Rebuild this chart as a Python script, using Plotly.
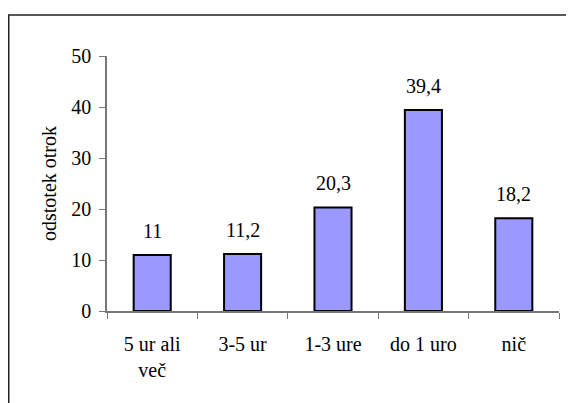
import plotly.graph_objects as go

categories = ['5 ur ali<br>več', '3-5 ur', '1-3 ure', 'do 1 uro', 'nič']
values = [11, 11.2, 20.3, 39.4, 18.2]
value_labels = ['11', '11,2', '20,3', '39,4', '18,2']
y_ticks = [0, 10, 20, 30, 40, 50]

FONT = dict(family='"Liberation Serif", "Times New Roman", serif',
            size=20, color='black')

fig = go.Figure()
fig.add_trace(go.Bar(
    x=categories, y=values,
    marker=dict(color='#9999FF', line=dict(color='black', width=2)),
    width=0.41,
))

# value labels above the bars
for c, v, t in zip(categories, values, value_labels):
    fig.add_annotation(x=c, y=v, text=t, showarrow=False, yshift=24,
                       font=FONT)

# outer frame (chart area border)
fig.add_shape(type='rect', xref='paper', yref='paper',
              x0=-0.2174, x1=1.2, y0=-0.5, y1=1.1608,
              line=dict(color='#222222', width=1.5))

fig.update_layout(
    width=574, height=403,
    margin=dict(l=99, r=23, t=48, b=100),
    paper_bgcolor='white', plot_bgcolor='white',
    font=FONT,
    showlegend=False,
)
fig.update_xaxes(
    showline=True, linecolor='#777777', linewidth=1.5,
    ticks='outside', tickson='boundaries', ticklen=6, tickcolor='#777777',
    tickfont=FONT, showgrid=False, ticklabelstandoff=14,
)
fig.update_yaxes(
    range=[0, 50], tickvals=y_ticks,
    showline=True, linecolor='#777777', linewidth=1.5,
    ticks='outside', ticklen=6, tickcolor='#777777',
    tickfont=FONT, showgrid=False, zeroline=False, ticklabelstandoff=4,
    title=dict(text='odstotek otrok', font=FONT, standoff=9),
)

fig.write_html('out.html')
